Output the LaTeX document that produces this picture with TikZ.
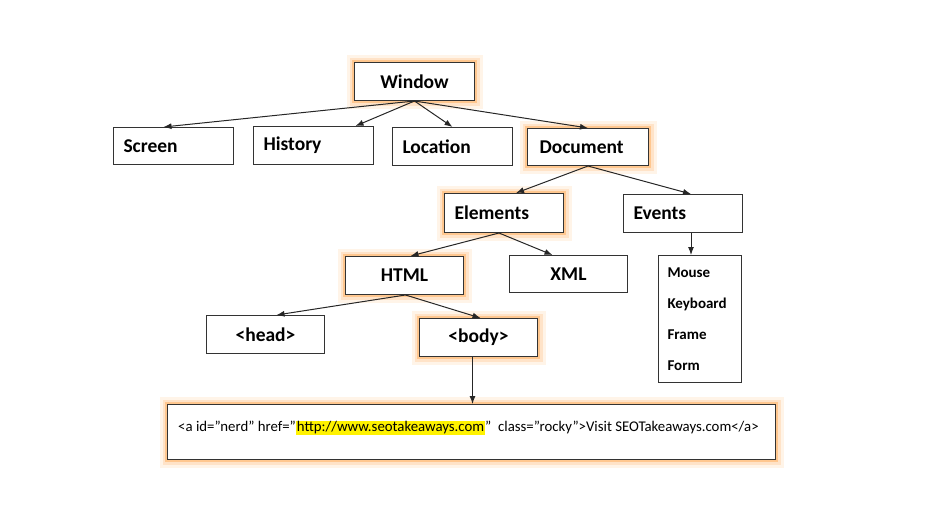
\documentclass[tikz,border=0pt]{standalone}
\usepackage{fontspec}
\setmainfont{Carlito}
\usepackage{tikz}
\usetikzlibrary{arrows.meta,positioning,calc}

\tikzset{
  box/.style = {draw=black!80, line width=1pt, fill=white, anchor=north west,
                inner xsep=10pt, inner ysep=0pt, font=\fontsize{19.5}{22}\selectfont\bfseries,
                align=left},
  glow/.style = {preaction={draw=orange!60, line width=16pt, opacity=0.15},
                 preaction={draw=orange!60, line width=10pt, opacity=0.25},
                 preaction={draw=orange!70, line width=5pt, opacity=0.45}},
  link/.style = {-{Latex[length=8pt,width=6pt]}, line width=1pt, black!85},
}

\begin{document}
\begin{tikzpicture}[x=1pt, y=-1pt]
  \useasboundingbox (0,0) rectangle (930,509);

  % top level
  \node[box, glow, minimum width=120, minimum height=38, align=center, inner xsep=0pt, text width=120] (win) at (354,62) {Window};
  \node[box, minimum width=120, minimum height=37, text width=100] (screen) at (113,127) {Screen};
  \node[box, minimum width=120, minimum height=38, text width=100] (hist) at (253,126) {History};
  \node[box, minimum width=120, minimum height=38, text width=100] (loc) at (392,127) {Location};
  \node[box, glow, minimum width=121, minimum height=37, inner xsep=12pt, text width=97] (doc) at (527,128) {Document};

  % document
  \node[box, glow, minimum width=119, minimum height=39, text width=99] (elem) at (444,193) {Elements};
  \node[box, minimum width=119, minimum height=38, text width=99] (events) at (623,194) {Events};
  \node[box, glow, minimum width=118, minimum height=38, align=center, inner xsep=0pt, text width=118] (html) at (345,256) {HTML};
  \node[box, minimum width=118, minimum height=37, align=center, inner xsep=0pt, text width=118] (xml) at (509,255) {XML};
  \node[box, minimum width=118, minimum height=38, align=center, inner xsep=0pt, text width=118] (head) at (206,315) {<head>};
  \node[box, glow, minimum width=118, minimum height=38, align=center, inner xsep=0pt, text width=118] (body) at (419,318) {<body>};

  % events list
  \node[box, minimum width=83, minimum height=127, inner xsep=9pt, text width=65, anchor=north west,
        font=\fontsize{15}{31}\selectfont\bfseries] (evlist) at (658,255)
        {Mouse\\Keyboard\\Frame\\Form};

  % anchor tag
  \node[box, glow, minimum width=608, minimum height=55, inner xsep=0pt] (tag) at (167,404) {};
  \node[anchor=west, inner sep=0pt, font=\fontsize{14.8}{16}\selectfont] (tagtext) at ([xshift=11pt, yshift=-24pt]tag.north west)
    {<a id=\symbol{34}nerd\symbol{34} href=\symbol{34}{\setlength{\fboxsep}{1pt}\colorbox{yellow}{http://www.seotakeaways.com}}\symbol{34}\ \ class=\symbol{34}rocky\symbol{34}>Visit SEOTakeaways.com</a>};

  % connectors
  \draw[link] (win.south) -- ([xshift=-10pt]screen.north);
  \draw[link] (win.south) -- ([xshift=42pt]hist.north);
  \draw[link] (win.south) -- (loc.north);
  \draw[link] (win.south) -- (doc.north);
  \draw[link] (doc.south) -- ([xshift=12pt]elem.north);
  \draw[link] (doc.south) -- ([xshift=8pt]events.north);
  \draw[link] ([xshift=-5pt]elem.south) -- ([xshift=6pt]html.north);
  \draw[link] ([xshift=-5pt]elem.south) -- ([xshift=-16pt]xml.north);
  \draw[link] ([xshift=1pt]html.south) -- ([xshift=11pt]head.north);
  \draw[link] ([xshift=1pt]html.south) -- ([xshift=2pt]body.north);
  \draw[link] ([xshift=8pt]events.south) -- ([xshift=-9pt]evlist.north);
  \draw[link] ([xshift=-6pt]body.south) -- ([xshift=-6pt]body.south |- tag.north);
\end{tikzpicture}
\end{document}
